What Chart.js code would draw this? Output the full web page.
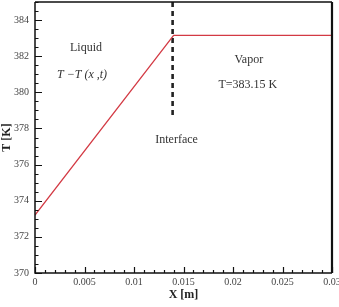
<!DOCTYPE html>
<html>
<head>
<meta charset="utf-8">
<script src="https://cdn.jsdelivr.net/npm/chart.js@4"></script>
<style>
  html, body { margin: 0; padding: 0; background: #fff; }
</style>
</head>
<body>
<canvas id="tempChart" width="339" height="307"></canvas>
<script>
// tick values / labels
const xTicks = [0, 0.005, 0.01, 0.015, 0.02, 0.025, 0.03];
const xTickLabels = ['0', '0.005', '0.01', '0.015', '0.02', '0.025', '0.03'];
const yTicks = [370, 372, 374, 376, 378, 380, 382, 384];

// temperature profile
const tempX = [0, 0.014, 0.03];
const tempY = [373.2, 383.15, 383.15];

// interface marker (dashed)
const interfaceX = [0.0139, 0.0139];
const interfaceY = [385, 378.7];

// text notes placed in data coords
const notes = [
  { text: 'Liquid', x: 0.00515, y: 382.45, italic: false },
  { text: 'T \u2212T (x ,t)', x: 0.00475, y: 380.96, italic: true },
  { text: 'Vapor', x: 0.0216, y: 381.8, italic: false },
  { text: 'T=383.15 K', x: 0.0215, y: 380.4, italic: false },
  { text: 'Interface', x: 0.0143, y: 377.36, italic: false }
];

const serif = "'Liberation Serif', 'DejaVu Serif', serif";

const framePlugin = {
  id: 'frame',
  afterDatasetsDraw(chart) {
    const { ctx, chartArea: a, scales } = chart;
    const xs = scales.x, ys = scales.y;
    ctx.save();
    ctx.strokeStyle = '#111';

    // inward ticks
    ctx.lineWidth = 1.2;
    ctx.beginPath();
    for (let v = 370; v <= 385.001; v += 0.5) {
      const py = Math.round(ys.getPixelForValue(v)) + 0.5;
      const major = yTicks.includes(Math.round(v * 10) / 10);
      ctx.moveTo(a.left, py);
      ctx.lineTo(a.left + (major ? 7 : 3.5), py);
    }
    for (let i = 0; i <= 30; i++) {
      const v = i / 1000;
      const px = Math.round(xs.getPixelForValue(v)) + 0.5;
      const major = i % 5 === 0;
      ctx.moveTo(px, a.bottom);
      ctx.lineTo(px, a.bottom - (major ? 6 : 3));
    }
    ctx.stroke();

    // frame
    ctx.lineWidth = 1.5;
    ctx.beginPath();
    ctx.moveTo(a.left, a.top);
    ctx.lineTo(a.right, a.top);
    ctx.moveTo(a.left, a.top);
    ctx.lineTo(a.left, a.bottom);
    ctx.lineTo(a.right, a.bottom);
    ctx.stroke();
    ctx.lineWidth = 2.2;
    ctx.beginPath();
    ctx.moveTo(a.right, a.top);
    ctx.lineTo(a.right, a.bottom);
    ctx.stroke();

    // notes
    ctx.fillStyle = '#333';
    ctx.textAlign = 'center';
    ctx.textBaseline = 'middle';
    notes.forEach(n => {
      ctx.font = (n.italic ? 'italic ' : '') + '12px ' + serif;
      ctx.fillText(n.text, xs.getPixelForValue(n.x), ys.getPixelForValue(n.y));
    });
    ctx.restore();
  }
};

const ctx = document.getElementById('tempChart').getContext('2d');

const tempChart = new Chart(ctx, {
  type: 'line',
  data: {
    datasets: [{
      label: 'T',
      data: tempX.map((x, i) => ({ x: x, y: tempY[i] })),
      borderColor: '#d33a44',
      borderWidth: 1.3,
      pointRadius: 0,
      tension: 0
    }, {
      label: 'Interface',
      data: interfaceX.map((x, i) => ({ x: x, y: interfaceY[i] })),
      borderColor: '#222',
      borderWidth: 2.6,
      borderDash: [5, 4],
      pointRadius: 0,
      tension: 0
    }]
  },
  options: {
    responsive: false,
    animation: false,
    layout: { padding: { top: 2, right: 7, left: 0, bottom: 0 } },
    plugins: {
      legend: { display: false },
      tooltip: { enabled: false }
    },
    scales: {
      x: {
        type: 'linear',
        min: 0,
        max: 0.03,
        grid: { display: false, drawTicks: false },
        border: { display: false },
        afterBuildTicks: s => { s.ticks = xTicks.map(v => ({ value: v })); },
        afterFit: s => { s.height = 34; s.paddingLeft = 0; s.paddingRight = 0; },
        ticks: {
          color: '#444',
          padding: 3,
          maxRotation: 0,
          autoSkip: false,
          font: { family: serif, size: 10 },
          callback: (v, i) => xTickLabels[i]
        },
        title: {
          display: true,
          text: 'X [m]',
          color: '#222',
          font: { family: serif, size: 12, weight: 'bold' },
          padding: { top: 0, bottom: 5 }
        }
      },
      y: {
        type: 'linear',
        min: 370,
        max: 385,
        grid: { display: false, drawTicks: false },
        border: { display: false },
        afterBuildTicks: s => { s.ticks = yTicks.map(v => ({ value: v })); },
        afterFit: s => { s.width = 35; s.paddingTop = 0; s.paddingBottom = 0; },
        ticks: {
          color: '#444',
          padding: 6,
          autoSkip: false,
          font: { family: serif, size: 10 }
        },
        title: {
          display: true,
          text: 'T [K]',
          color: '#222',
          font: { family: serif, size: 12, weight: 'bold' },
          padding: 0
        }
      }
    }
  },
  plugins: [framePlugin]
});
</script>
</body>
</html>
